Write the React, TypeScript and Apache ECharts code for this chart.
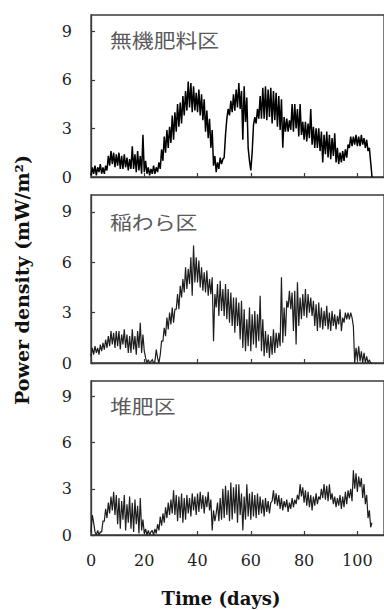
import React, { useEffect, useRef } from 'react';
import * as echarts from 'echarts';

// Sampling step of the recorded series (days)
const TIME_STEP_DAYS = 0.5;

// 無機肥料区 (inorganic fertilizer plot), values in mW/m2, every 0.5 day from day 0
const inorganicValues = [
  0.1, 0.6, 0.2, 0.7, 0.1, 0.6, 0.3, 0.8, 0.2, 0.6,
  0.2, 0.7, 0.4, 1.3, 0.7, 1.6, 0.8, 1.5, 0.6, 1.4,
  0.7, 1.5, 0.5, 1.3, 0.5, 1.4, 0.6, 1.2, 0.4, 1.1,
  0.5, 1.9, 0.5, 1.4, 0.3, 1.6, 0.4, 1.3, 0.2, 2.6,
  0.3, 1.0, 0.2, 0.6, 0.1, 0.5, 0.2, 0.7, 0.2, 0.6,
  0.3, 0.9, 0.5, 1.7, 1.0, 2.5, 1.5, 2.9, 1.8, 3.1,
  2.1, 3.8, 2.3, 4.0, 2.8, 4.5, 3.1, 4.6, 3.3, 5.0,
  3.8, 5.3, 4.1, 5.9, 4.3, 5.8, 4.0, 5.6, 4.1, 5.2,
  4.0, 5.4, 3.8, 5.1, 3.5, 4.8, 2.8, 4.1, 2.4, 3.6,
  1.8, 2.9, 0.7, 1.3, 0.3, 0.9, 0.5, 1.2, 0.8, 1.1,
  1.2, 2.6, 3.6, 4.2, 3.8, 4.7, 4.0, 5.1, 4.1, 5.4,
  4.3, 5.8, 4.2, 5.3, 2.3, 5.6, 3.4, 4.9, 1.8, 1.0,
  0.4, 1.5, 3.2, 3.7, 3.3, 4.2, 3.6, 5.0, 3.6, 5.5,
  3.6, 5.6, 3.5, 5.4, 3.7, 5.5, 3.3, 5.3, 3.5, 5.2,
  3.1, 5.0, 2.9, 4.8, 1.8, 3.7, 2.8, 3.6, 2.8, 3.5,
  2.9, 4.5, 2.8, 4.5, 3.0, 4.2, 2.5, 4.5, 2.6, 3.4,
  2.3, 3.4, 2.2, 3.3, 2.4, 4.2, 2.0, 3.1, 1.8, 3.0,
  1.8, 3.0, 1.6, 2.8, 0.9, 2.6, 1.4, 2.8, 1.2, 2.6,
  1.1, 2.4, 1.3, 2.7, 0.9, 1.8, 0.8, 1.5, 0.9, 1.6,
  1.0, 1.7, 1.2, 2.0, 1.8, 2.5, 1.9, 2.5, 2.0, 2.6,
  1.9, 2.5, 1.9, 2.6, 2.0, 2.4, 1.8, 2.3, 1.6, 1.8, 0.9, 0.0,
];

// 稲わら区 (rice straw plot)
const strawValues = [
  0.4, 0.9, 0.5, 1.0, 0.6, 0.9, 0.5, 1.1, 0.7, 1.2,
  0.8, 1.4, 0.9, 1.6, 1.0, 1.9, 1.1, 1.8, 0.9, 1.9,
  1.0, 1.9, 0.8, 1.7, 1.1, 2.0, 0.9, 1.7, 0.6, 1.6,
  0.6, 2.0, 0.8, 1.6, 0.5, 1.9, 0.9, 2.4, 0.6, 1.7,
  0.7, 0.3, 0.0, 0.2, 0.0, 0.1, 0.2, 0.0, 0.1, 0.8,
  0.3, 0.0, 0.5, 1.3, 1.3, 2.1, 1.6, 2.7, 2.0, 3.0,
  2.3, 3.3, 2.4, 3.2, 3.2, 4.1, 3.2, 4.6, 3.9, 5.0,
  4.2, 5.7, 4.4, 5.6, 4.7, 6.3, 4.0, 7.0, 4.8, 6.3,
  4.8, 6.1, 4.5, 5.7, 4.3, 5.4, 4.2, 5.5, 4.0, 5.0,
  4.1, 5.1, 1.3, 4.1, 3.3, 4.7, 2.8, 4.9, 3.1, 4.4,
  2.8, 4.7, 2.6, 4.4, 2.4, 4.2, 2.2, 3.9, 1.8, 3.9,
  2.2, 3.6, 1.4, 3.7, 0.9, 3.2, 0.7, 2.6, 1.0, 3.3,
  0.7, 2.9, 1.1, 3.1, 0.9, 2.9, 1.3, 4.0, 0.7, 2.6,
  0.4, 1.9, 0.6, 1.7, 0.3, 1.6, 0.5, 2.0, 0.6, 1.8,
  0.9, 1.8, 1.0, 5.1, 1.2, 3.3, 1.6, 3.7, 3.3, 4.3,
  3.2, 4.2, 1.9, 4.3, 1.1, 4.8, 2.2, 3.9, 2.6, 4.1,
  2.8, 4.4, 2.7, 4.1, 3.0, 3.9, 2.8, 3.7, 2.2, 3.5,
  1.9, 3.6, 2.1, 3.3, 2.0, 3.1, 2.2, 3.4, 2.0, 3.0,
  1.9, 3.1, 2.2, 2.9, 2.0, 2.8, 2.3, 3.2, 1.9, 2.7,
  2.4, 3.0, 2.6, 3.0, 2.6, 3.0, 2.7, 2.2, 0.0, 0.9,
  0.2, 1.0, 0.1, 0.7, 0.0, 0.6, 0.0, 0.4, 0.0, 0.2, 0.0, 0.0,
];

// 堆肥区 (compost plot)
const compostValues = [
  0.2, 1.3, 0.8, 0.2, 0.0, 0.3, 0.0, 0.2, 0.2, 0.9,
  0.9, 1.7, 1.1, 2.1, 1.4, 2.5, 1.6, 2.8, 1.3, 2.6,
  0.7, 2.4, 0.4, 2.2, 1.0, 2.6, 0.3, 2.0, 0.8, 2.5,
  0.4, 2.1, 0.2, 2.3, 0.7, 1.9, 0.1, 2.4, 0.3, 1.0,
  0.1, 0.4, 0.0, 0.3, 0.0, 0.2, 0.3, 0.0, 0.4, 0.1,
  0.7, 0.3, 1.2, 0.6, 1.4, 0.8, 1.8, 1.1, 2.1, 1.3,
  2.3, 1.4, 2.9, 1.3, 2.6, 0.9, 2.5, 1.1, 2.7, 0.8,
  2.4, 1.0, 2.6, 1.4, 2.4, 1.2, 2.7, 1.6, 2.5, 1.3,
  2.7, 1.5, 2.8, 1.7, 2.6, 1.4, 2.5, 1.8, 2.8, 1.6,
  2.3, 0.3, 1.6, 0.9, 1.4, 2.1, 0.9, 2.4, 1.0, 3.0,
  1.1, 3.2, 1.3, 2.9, 0.9, 3.4, 1.0, 3.1, 1.4, 3.3,
  0.8, 3.3, 1.3, 2.7, 0.3, 2.5, 1.0, 3.3, 1.2, 2.7,
  1.0, 2.8, 1.2, 2.6, 1.1, 2.7, 1.3, 2.5, 1.4, 2.3,
  1.2, 2.4, 1.5, 2.2, 1.4, 2.1, 2.2, 2.9, 2.0, 2.7,
  1.9, 2.6, 1.7, 2.4, 1.6, 2.2, 1.8, 2.3, 1.5, 2.1,
  1.7, 2.4, 1.8, 2.3, 2.0, 2.6, 2.3, 3.3, 2.5, 3.1,
  2.1, 2.9, 1.9, 2.8, 1.8, 2.6, 1.6, 2.5, 1.9, 2.7,
  2.0, 2.5, 2.3, 3.0, 2.4, 3.3, 2.3, 3.2, 2.2, 3.3,
  2.3, 2.7, 2.0, 2.5, 1.8, 2.4, 1.9, 2.6, 1.7, 2.5,
  1.8, 2.8, 2.0, 2.9, 2.4, 3.0, 2.2, 4.2, 3.0, 4.0,
  2.8, 3.8, 3.1, 3.7, 2.4, 3.3, 2.0, 2.6, 1.1, 1.6, 0.5, 0.8,
];

const panelLabels = ['無機肥料区', '稲わら区', '堆肥区'];
const yTickValues = [0, 3, 6, 9];
const xTickValues = [0, 20, 40, 60, 80, 100];
const xAxisTitle = 'Time (days)';
const yAxisTitle = 'Power density (mW/m²)';

const AXIS_COLOR = '#3a3a3a';

function toPoints(values: number[]) {
  return values.map((v, i) => [i * TIME_STEP_DAYS, v]);
}

export default function App() {
  const ref = useRef<HTMLDivElement>(null);

  useEffect(() => {
    if (!ref.current) return;
    const chart = echarts.init(ref.current, null, { renderer: 'svg' });

    const panels = [
      { top: 15, height: 162, labelY: 40, values: inorganicValues, color: '#000', width: 1.5 },
      { top: 195, height: 168, labelY: 222, values: strawValues, color: '#1e1e1e', width: 1.2 },
      { top: 381, height: 154, labelY: 406, values: compostValues, color: '#1e1e1e', width: 1.2 },
    ];

    const option: any = {
      animation: false,
      backgroundColor: '#fff',
      grid: panels.map((p) => ({
        left: 91,
        right: -3,
        top: p.top,
        height: p.height,
        show: true,
        borderColor: AXIS_COLOR,
        borderWidth: 1.3,
        backgroundColor: 'transparent',
      })),
      xAxis: panels.map((p, i) => ({
        type: 'value',
        gridIndex: i,
        min: 0,
        max: 110,
        interval: 20,
        axisLine: { show: true, onZero: false, lineStyle: { color: AXIS_COLOR, width: 1.3 } },
        axisTick: { show: true, inside: true, length: 4, lineStyle: { color: AXIS_COLOR, width: 1.2 } },
        splitLine: { show: false },
        axisLabel: {
          show: i === 2,
          margin: 17,
          fontFamily: 'DejaVu Serif',
          fontSize: 16,
          color: '#222',
          showMaxLabel: false,
          formatter: (v: number) => (xTickValues.includes(v) ? String(v) : ''),
        },
      })),
      yAxis: panels.map((p, i) => ({
        type: 'value',
        gridIndex: i,
        min: 0,
        max: 10,
        interval: 3,
        axisLine: { show: true, onZero: false, lineStyle: { color: AXIS_COLOR, width: 1.3 } },
        axisTick: { show: true, inside: true, length: 4, lineStyle: { color: AXIS_COLOR, width: 1.2 } },
        splitLine: { show: false },
        axisLabel: {
          margin: 19,
          fontFamily: 'DejaVu Serif',
          fontSize: 16,
          color: '#222',
          showMaxLabel: false,
          formatter: (v: number) => (yTickValues.includes(v) ? String(v) : ''),
        },
      })),
      series: panels.map((p, i) => ({
        type: 'line',
        xAxisIndex: i,
        yAxisIndex: i,
        data: toPoints(p.values),
        showSymbol: false,
        symbol: 'none',
        lineStyle: { color: p.color, width: p.width, join: 'miter', miterLimit: 2 },
        clip: true,
      })),
      graphic: [
        ...panels.map((p, i) => ({
          type: 'text',
          x: 110,
          y: p.labelY,
          scaleX: 1.15,
          style: {
            text: panelLabels[i],
            fontFamily: 'Noto Sans CJK JP',
            fontSize: 19,
            fill: '#5a5a5a',
            textAlign: 'left',
            textVerticalAlign: 'middle',
          },
        })),
        {
          type: 'text',
          x: 221,
          y: 598,
          style: {
            text: xAxisTitle,
            fontFamily: 'DejaVu Serif',
            fontWeight: 'bold',
            fontSize: 18,
            fill: '#111',
            textAlign: 'center',
            textVerticalAlign: 'middle',
          },
        },
        {
          type: 'text',
          x: 22,
          y: 280,
          rotation: Math.PI / 2,
          style: {
            text: yAxisTitle,
            fontFamily: 'DejaVu Serif',
            fontWeight: 'bold',
            fontSize: 19,
            fill: '#111',
            textAlign: 'center',
            textVerticalAlign: 'middle',
          },
        },
      ],
    };

    chart.setOption(option);
    return () => chart.dispose();
  }, []);

  return (
    <div
      ref={ref}
      style={{ position: 'fixed', left: 0, top: 0, width: 384, height: 610, background: '#fff' }}
    />
  );
}
